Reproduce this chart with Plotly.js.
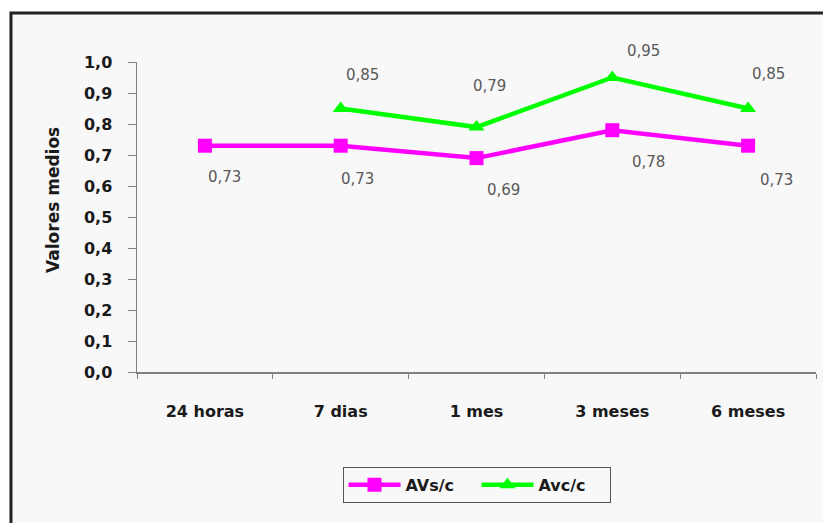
<!DOCTYPE html>
<html>
<head>
<meta charset="utf-8">
<script src="https://cdn.plot.ly/plotly-3.0.1.min.js"></script>
<style>html,body{margin:0;padding:0;background:#fff;}#chart{width:823px;height:523px;}</style>
</head>
<body>
<div id="chart"></div>
<script>
// ---- data ----
const categories = ["24 horas", "7 dias", "1 mes", "3 meses", "6 meses"];
const avsc = [0.73, 0.73, 0.69, 0.78, 0.73];
const avcc = [null, 0.85, 0.79, 0.95, 0.85];
const yTickVals = [0, 0.1, 0.2, 0.3, 0.4, 0.5, 0.6, 0.7, 0.8, 0.9, 1.0];
const yTickText = ["0,0", "0,1", "0,2", "0,3", "0,4", "0,5", "0,6", "0,7", "0,8", "0,9", "1,0"];
const seriesNames = ["AVs/c", "Avc/c"];
const yTitle = "Valores medios";

// ---- label offsets (pixels, style only) ----
const avscShift = [[20, -31], [17, -33], [27, -32], [36, -32], [28, -34]];
const avccShift = [null, [22, 34], [13, 41], [31, 27], [20, 35]];

const fmt = v => v.toFixed(2).replace(".", ",");

const font = "'DejaVu Sans', sans-serif";

const traces = [
  {
    x: categories, y: avsc, name: seriesNames[0], type: "scatter", mode: "lines+markers",
    line: {color: "#ff00ff", width: 4.5},
    marker: {symbol: "square", size: 14, color: "#ff00ff"},
    cliponaxis: false
  },
  {
    x: categories, y: avcc, name: seriesNames[1], type: "scatter", mode: "lines+markers",
    line: {color: "#00ff00", width: 4.5},
    marker: {symbol: "triangle-up", size: 14, color: "#00ff00"},
    connectgaps: false, cliponaxis: false
  }
];

const annotations = [];
avsc.forEach((v, i) => {
  if (v == null) return;
  annotations.push({x: categories[i], y: v, xref: "x", yref: "y", text: fmt(v), showarrow: false,
    xshift: avscShift[i][0], yshift: avscShift[i][1], font: {family: font, size: 15, color: "#595959"}});
});
avcc.forEach((v, i) => {
  if (v == null) return;
  annotations.push({x: categories[i], y: v, xref: "x", yref: "y", text: fmt(v), showarrow: false,
    xshift: avccShift[i][0], yshift: avccShift[i][1], font: {family: font, size: 15, color: "#595959"}});
});
annotations.push({xref: "paper", yref: "paper", x: -0.1237, y: 0.555, xanchor: "center", yanchor: "middle",
  text: yTitle, textangle: -90, showarrow: false,
  font: {family: font, size: 17, color: "#1a1a1a", weight: "bold"}});

const layout = {
  width: 823, height: 523,
  margin: {l: 137, r: 7, t: 62, b: 151},
  paper_bgcolor: "#ffffff",
  plot_bgcolor: "rgba(0,0,0,0)",
  showlegend: true,
  font: {family: font, color: "#000"},
  xaxis: {
    type: "category", showgrid: false, zeroline: false,
    showline: true, linecolor: "#808080", linewidth: 1.5,
    ticks: "outside", ticklen: 5, tickcolor: "#808080", tickson: "boundaries",
    tickfont: {family: font, size: 16, color: "#1a1a1a", weight: "bold"},
    ticklabelstandoff: 24,
    range: [-0.5, 4.5], fixedrange: true
  },
  yaxis: {
    range: [0, 1], showgrid: false, zeroline: false,
    showline: true, linecolor: "#808080", linewidth: 1.5,
    ticks: "outside", ticklen: 8, tickcolor: "#808080",
    tickvals: yTickVals, ticktext: yTickText,
    tickfont: {family: font, size: 16, color: "#1a1a1a", weight: "bold"},
    ticklabelstandoff: 12,
    fixedrange: true
  },
  legend: {
    orientation: "h", x: 0.5, xanchor: "center", y: -0.306, yanchor: "top",
    bgcolor: "rgba(0,0,0,0)", bordercolor: "#555", borderwidth: 1,
    font: {family: font, size: 16, color: "#1a1a1a", weight: "bold"},
    entrywidth: 66, itemwidth: 52
  },
  shapes: [
    {type: "rect", xref: "paper", yref: "paper", layer: "below",
     x0: -0.1856, x1: 1.2, y0: -0.8, y1: 1.158,
     fillcolor: "#f8f8f8", line: {color: "#222", width: 3}}
  ],
  annotations: annotations
};

Plotly.newPlot("chart", traces, layout, {displayModeBar: false, staticPlot: true});
</script>
</body>
</html>
